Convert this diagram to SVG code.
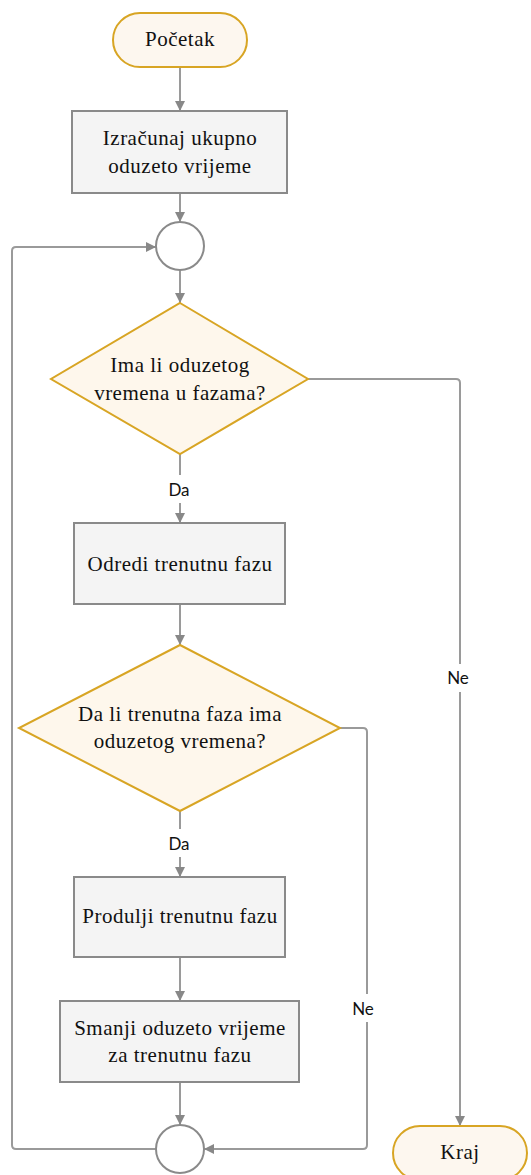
<svg xmlns="http://www.w3.org/2000/svg" width="531" height="1175" viewBox="0 0 531 1175">
<style>
.term{fill:#fdf7ef;stroke:#d8a524;stroke-width:2}
.dec{fill:#fef7ec;stroke:#d8a524;stroke-width:2}
.box{fill:#f4f4f4;stroke:#8a8a8a;stroke-width:2}
.junc{fill:#ffffff;stroke:#8a8a8a;stroke-width:2}
.t{font-family:"Liberation Serif","Times New Roman",serif;font-size:21px;letter-spacing:0.5px;fill:#111;text-anchor:middle}
.lbl{font-family:Lato,"Liberation Sans",sans-serif;font-size:17px;fill:#111;text-anchor:middle}
.c{fill:none;stroke:#9a9a9a;stroke-width:2;stroke-linejoin:round}
.bg{fill:#ffffff}
</style>
<defs>
<marker id="ah" markerUnits="userSpaceOnUse" markerWidth="11" markerHeight="11" refX="10" refY="5" orient="auto">
<path d="M0,0 L10,5 L0,10 z" fill="#888888"/>
</marker>
</defs>
<rect width="531" height="1175" fill="#ffffff"/>
<g id="connectors">
<path class="c" d="M180,67 V111" marker-end="url(#ah)"/>
<path class="c" d="M180,193 V222" marker-end="url(#ah)"/>
<path class="c" d="M180,270 V303" marker-end="url(#ah)"/>
<path class="c" d="M180,454 V523" marker-end="url(#ah)"/>
<path class="c" d="M308,379 H456 Q460,379 460,383 V1126" marker-end="url(#ah)"/>
<path class="c" d="M180,604 V645" marker-end="url(#ah)"/>
<path class="c" d="M180,811 V877" marker-end="url(#ah)"/>
<path class="c" d="M340,728 H363 Q367,728 367,732 V1145 Q367,1149 363,1149 H204" marker-end="url(#ah)"/>
<path class="c" d="M180,957 V1001" marker-end="url(#ah)"/>
<path class="c" d="M180,1082 V1125" marker-end="url(#ah)"/>
<path class="c" d="M156,1149 H16 Q12,1149 12,1145 V251 Q12,247 16,247 H156" marker-end="url(#ah)"/>
<rect class="bg" x="165" y="475" width="28" height="28"/>
<text class="lbl" x="179" y="496">Da</text>
<rect class="bg" x="165" y="829" width="28" height="28"/>
<text class="lbl" x="179" y="850">Da</text>
<rect class="bg" x="444" y="664" width="28" height="28"/>
<text class="lbl" x="458" y="684">Ne</text>
<rect class="bg" x="349" y="994" width="28" height="28"/>
<text class="lbl" x="363" y="1015">Ne</text>
</g>
<g id="start">
<rect class="term" x="113" y="13" width="134" height="54" rx="27"/>
<text class="t" x="180" y="46">Početak</text>
</g>
<g id="calc-total">
<rect class="box" x="72" y="111" width="215" height="82"/>
<text class="t" x="180" y="145">Izračunaj ukupno</text>
<text class="t" x="180" y="173">oduzeto vrijeme</text>
</g>
<g id="merge-top">
<circle class="junc" cx="180" cy="246" r="24"/>
</g>
<g id="dec-phases">
<polygon class="dec" points="180,303 308,379 180,454 51,379"/>
<text class="t" x="180" y="372">Ima li oduzetog</text>
<text class="t" x="180" y="400">vremena u fazama?</text>
</g>
<g id="find-phase">
<rect class="box" x="74" y="523" width="211" height="81"/>
<text class="t" x="180" y="571">Odredi trenutnu fazu</text>
</g>
<g id="dec-current">
<polygon class="dec" points="180,645 340,728 180,811 19,728"/>
<text class="t" x="180" y="721">Da li trenutna faza ima</text>
<text class="t" x="180" y="748">oduzetog vremena?</text>
</g>
<g id="extend-phase">
<rect class="box" x="74" y="877" width="211" height="80"/>
<text class="t" x="180" y="923">Produlji trenutnu fazu</text>
</g>
<g id="reduce-time">
<rect class="box" x="60" y="1001" width="239" height="81"/>
<text class="t" x="180" y="1035">Smanji oduzeto vrijeme</text>
<text class="t" x="180" y="1062">za trenutnu fazu</text>
</g>
<g id="merge-bottom">
<circle class="junc" cx="180" cy="1149" r="24"/>
</g>
<g id="end">
<rect class="term" x="393" y="1126" width="134" height="54" rx="27"/>
<text class="t" x="460" y="1159">Kraj</text>
</g>
</svg>
